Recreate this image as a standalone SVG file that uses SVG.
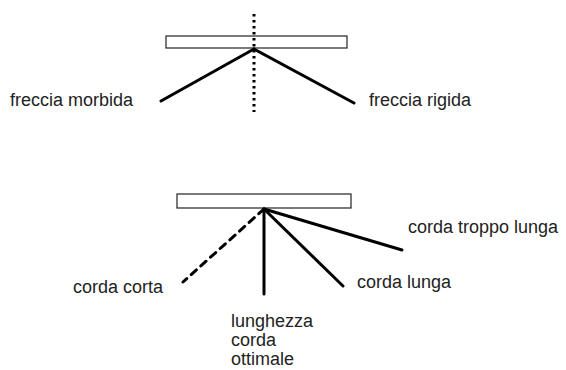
<svg xmlns="http://www.w3.org/2000/svg" width="566" height="370" viewBox="0 0 566 370">
<style>
.bar{fill:#fff;stroke:#222;stroke-width:1.2}
.ln{stroke:#000;stroke-width:3;stroke-linecap:round;fill:none}
.t{font-family:"Liberation Sans",Arial,sans-serif;font-size:18px;fill:#222}
</style>
<rect width="566" height="370" fill="#fff"/>
<g id="top">
<rect class="bar" x="166" y="36" width="181" height="12"/>
</g>
<g id="bottom">
<rect class="bar" x="177" y="194" width="174" height="14"/>
</g>
<g id="connectors">
<line x1="254" y1="14" x2="254" y2="112" stroke="#000" stroke-width="3" stroke-dasharray="2.5,3.5"/>
<line class="ln" x1="254" y1="49" x2="161" y2="101"/>
<line class="ln" x1="254" y1="49" x2="354" y2="103"/>
<line class="ln" x1="264" y1="209" x2="183" y2="282" stroke-dasharray="7,6" stroke-linecap="butt"/>
<line class="ln" x1="264" y1="209" x2="264" y2="294"/>
<line class="ln" x1="264" y1="209" x2="343" y2="286"/>
<line class="ln" x1="264" y1="209" x2="402" y2="250"/>
</g>
<g id="labels">
<text class="t" x="10" y="106">freccia morbida</text>
<text class="t" x="369" y="106">freccia rigida</text>
<text class="t" x="408" y="233">corda troppo lunga</text>
<text class="t" x="357" y="288">corda lunga</text>
<text class="t" x="73" y="293">corda corta</text>
<text class="t" x="231" y="327">lunghezza</text>
<text class="t" x="231" y="346">corda</text>
<text class="t" x="231" y="365">ottimale</text>
</g>
</svg>
